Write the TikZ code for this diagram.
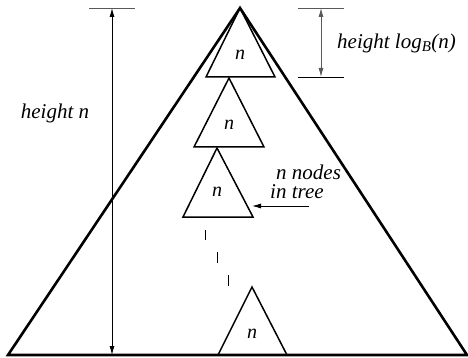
\documentclass[tikz,border=0pt]{standalone}
\usepackage{fontspec}
\setmainfont{Liberation Serif}
\usetikzlibrary{arrows.meta}
\begin{document}
\begin{tikzpicture}[x=1pt,y=-1pt,
  big/.style={line width=2.6pt,line join=miter},
  small/.style={line width=1.5pt,line join=miter},
  tick/.style={line width=0.9pt,gray!70!black},
  dim/.style={line width=0.9pt,{Latex[length=9pt,width=5pt]}-{Latex[length=9pt,width=5pt]}},
  lbl/.style={font=\fontsize{21}{19}\selectfont\itshape,inner sep=0pt},
  nlbl/.style={font=\fontsize{20}{22}\selectfont\itshape,inner sep=0pt},
  dashseg/.style={line width=1pt}]
\useasboundingbox (0,0) rectangle (468,358);
% big triangle
\coordinate (A) at (240,8);
\coordinate (BL) at (8,355);
\coordinate (BR) at (467,355);
\draw[big] (BL) -- (A) -- (BR) -- cycle;
% small triangles
\coordinate (t1a) at (240,8);
\coordinate (t1l) at (206,77);
\coordinate (t1r) at (275,77);
\draw[small] (t1l) -- (t1a) -- (t1r) -- cycle;
\node[nlbl] (n1) at (240,55) {n};
\coordinate (t2a) at (229,78);
\coordinate (t2l) at (194,147);
\coordinate (t2r) at (264,147);
\draw[small] (t2l) -- (t2a) -- (t2r) -- cycle;
\node[nlbl] (n2) at (229,125) {n};
\coordinate (t3a) at (217,148);
\coordinate (t3l) at (183,217);
\coordinate (t3r) at (253,217);
\draw[small] (t3l) -- (t3a) -- (t3r) -- cycle;
\node[nlbl] (n3) at (217,192) {n};
\coordinate (t4a) at (252,287);
\coordinate (t4l) at (218,355);
\coordinate (t4r) at (287,355);
\draw[small] (t4l) -- (t4a) -- (t4r);
\node[nlbl] (n4) at (252,334) {n};
% dashes
\coordinate (d1a) at (205,230); \coordinate (d1b) at (205,240);
\coordinate (d2a) at (217,252); \coordinate (d2b) at (217,263);
\coordinate (d3a) at (228,275); \coordinate (d3b) at (228,286);
\draw[dashseg] (d1a) -- (d1b);
\draw[dashseg] (d2a) -- (d2b);
\draw[dashseg] (d3a) -- (d3b);
% left dimension
\coordinate (lt1) at (89,8); \coordinate (lt2) at (135,8);
\draw[tick] (lt1) -- (lt2);
\coordinate (la) at (112,8); \coordinate (lb) at (112,355);
\draw[dim] (la) -- (lb);
\node[lbl] (hn) at (55,113) {height n};
% right dimension
\coordinate (rt1) at (298,8); \coordinate (rt2) at (344,8);
\coordinate (rb1) at (298,77); \coordinate (rb2) at (344,77);
\draw[tick] (rt1) -- (rt2);
\draw[line width=0.9pt] (rb1) -- (rb2);
\coordinate (ra) at (321,8); \coordinate (rb) at (321,77);
\draw[dim,gray!70!black] (ra) -- (rb);
\node[lbl,anchor=west] (hl) at (337,43) {height log\textsubscript{\fontsize{15}{16}\selectfont B}(n)};
% n nodes in tree
\node[lbl,align=left,anchor=north west] (nn) at (276,165) {n nodes\\\hspace*{-6pt}in tree};
\coordinate (arrs) at (309,206);
\coordinate (arre) at (252,206);
\draw[line width=0.9pt,-{Latex[length=9pt,width=5pt]}] (arrs) -- (arre);
\end{tikzpicture}
\end{document}
